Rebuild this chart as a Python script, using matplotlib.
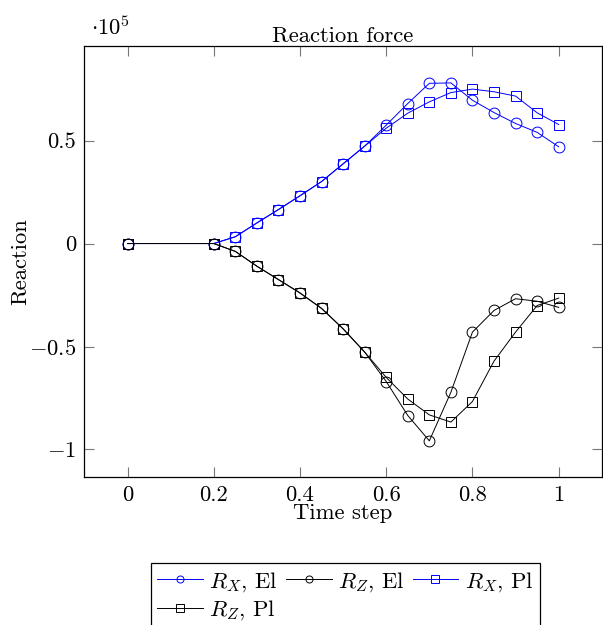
import numpy as np
import matplotlib.pyplot as plt

plt.rcParams['font.family'] = 'serif'
plt.rcParams['font.serif'] = ['cmr10']
plt.rcParams['mathtext.fontset'] = 'cm'
plt.rcParams['axes.formatter.use_mathtext'] = True

# time steps
t = [0, 0.2, 0.25, 0.3, 0.35, 0.4, 0.45, 0.5, 0.55, 0.6, 0.65, 0.7, 0.75, 0.8, 0.85, 0.9, 0.95, 1.0]

# reactions (x 1e5)
rx_el = [0, 0, 0.033, 0.100, 0.165, 0.232, 0.301, 0.387, 0.473, 0.575, 0.680, 0.778, 0.780, 0.696, 0.636, 0.583, 0.540, 0.470]
rz_el = [0, 0, -0.038, -0.110, -0.175, -0.240, -0.315, -0.414, -0.527, -0.670, -0.835, -0.958, -0.722, -0.430, -0.325, -0.268, -0.280, -0.310]
rx_pl = [0, 0, 0.033, 0.100, 0.165, 0.232, 0.301, 0.387, 0.473, 0.560, 0.633, 0.688, 0.733, 0.750, 0.737, 0.716, 0.635, 0.578]
rz_pl = [0, 0, -0.038, -0.110, -0.175, -0.240, -0.315, -0.414, -0.527, -0.650, -0.755, -0.832, -0.867, -0.767, -0.571, -0.430, -0.301, -0.265]

fs = 16.3

fig = plt.figure(figsize=(6.03, 6.25), dpi=100)
ax = fig.add_axes([0.140, 0.237, 0.858, 0.689])

kw = dict(lw=0.7, ms=7.8, mfc='none', mew=0.7)
h1, = ax.plot(t, rx_el, color='blue', marker='o', label=r'$R_X$, El', **kw)
h2, = ax.plot(t, rz_el, color='black', marker='o', label=r'$R_Z$, El', **kw)
h3, = ax.plot(t, rx_pl, color='blue', marker='s', label=r'$R_X$, Pl', **kw)
h4, = ax.plot(t, rz_pl, color='black', marker='s', label=r'$R_Z$, Pl', **kw)

ax.set_xlim(-0.1, 1.1)
ax.set_ylim(-1.133, 0.958)
ax.set_xticks([0, 0.2, 0.4, 0.6, 0.8, 1])
ax.set_xticklabels(['0', '0.2', '0.4', '0.6', '0.8', '1'])
ax.set_yticks([-1, -0.5, 0, 0.5])
ax.set_yticklabels([r'$-1$', r'$-0.5$', '0', '0.5'])
ax.tick_params(direction='in', length=7, width=0.8, color='#777777', top=True, right=True,
               labelsize=fs, pad=6)
for s in ax.spines.values():
    s.set_linewidth(0.9)

ax.set_title('Reaction force', fontsize=fs, pad=3)
ax.set_xlabel('Time step', fontsize=fs, labelpad=-1)
ax.set_ylabel('Reaction', fontsize=fs, labelpad=-1)
fig.text(0.184, 0.957, r'$\cdot 10^5$', fontsize=fs, ha='center', va='center')

# row-wise legend order
leg = fig.legend([h1, h4, h2, h3], [h1.get_label(), h4.get_label(), h2.get_label(), h3.get_label()],
                 loc='upper center', bbox_to_anchor=(0.573, 0.099), ncol=3, fontsize=fs,
                 frameon=True, fancybox=False, edgecolor='black', framealpha=1,
                 columnspacing=0.35, handlelength=2.0, handletextpad=0.3, markerscale=0.65,
                 borderpad=0.3, labelspacing=0.2, borderaxespad=0)
leg.get_frame().set_linewidth(0.9)

fig.savefig('out.png', dpi=100)
